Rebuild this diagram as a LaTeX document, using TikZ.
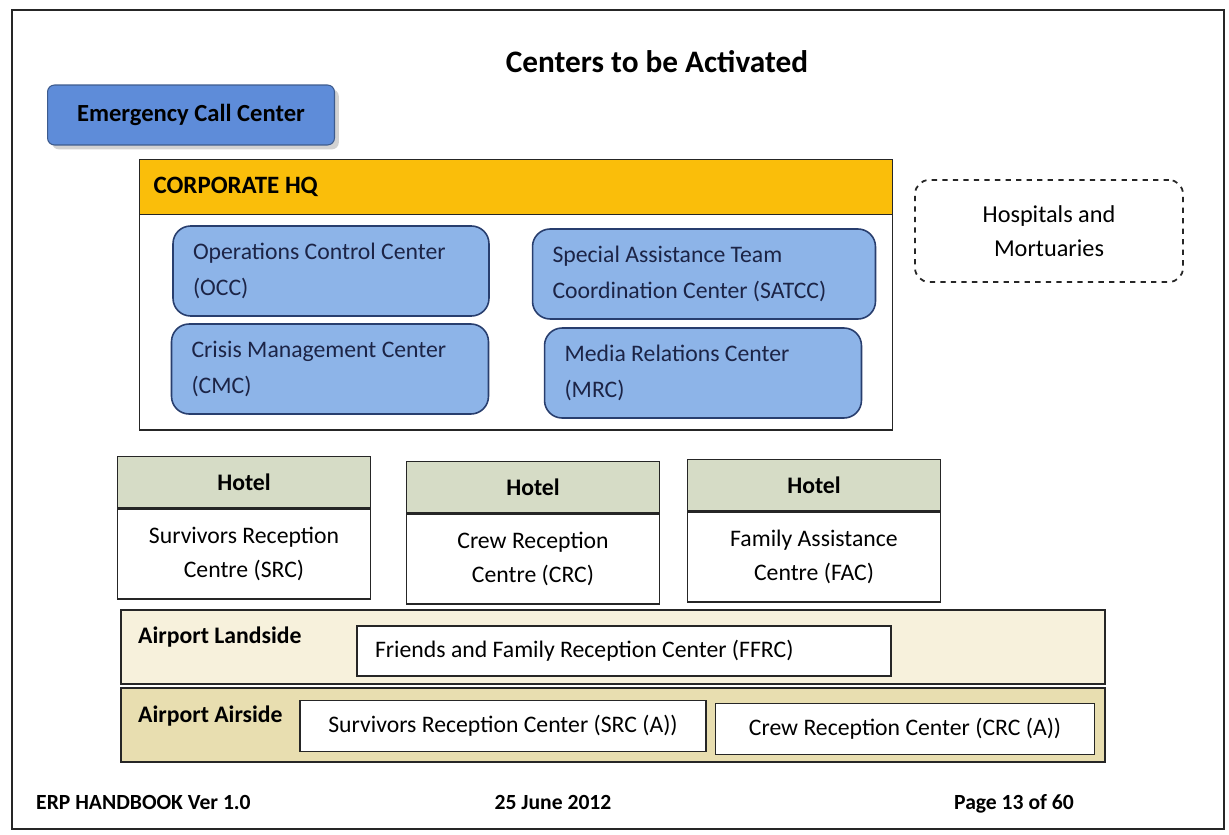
\documentclass[tikz,border=0pt]{standalone}
\usepackage{fontspec}
\setmainfont{Carlito}
\usetikzlibrary{positioning,shadows}

\begin{document}
\begin{tikzpicture}[
    x=0.02cm,
    y=-0.02cm,
    font=\fontsize{13}{20}\selectfont,
    frame/.style={draw=black!85, line width=1.3pt},
    callbox/.style={
        draw=callblue!65!black,
        fill=callblue,
        rounded corners=4pt,
        line width=0.6pt,
        minimum width=5.74cm,
        minimum height=1.2cm,
        font=\fontsize{14}{16}\selectfont\bfseries,
        drop shadow={shadow xshift=2.5pt, shadow yshift=-2.5pt, fill=black!35}
    },
    ctrbox/.style={
        draw=boxline,
        fill=ctrblue,
        rounded corners=10pt,
        line width=0.9pt,
        minimum width=#1,
        inner xsep=0.4cm,
        minimum height=1.8cm,
        align=flush left,
        text=navytext,
        font=\fontsize{13.5}{20.5}\selectfont
    },
    plainbox/.style={draw=black!85, fill=white, line width=1pt, inner sep=0pt},
    hotelhead/.style={
        draw=black!85, fill=hotelgreen, line width=1pt,
        minimum width=5.06cm, minimum height=1.02cm,
        font=\fontsize{13.5}{16}\selectfont\bfseries
    },
    hotelbody/.style={
        draw=black!85, fill=white, line width=1pt,
        minimum width=5.06cm, minimum height=1.8cm, align=center,
        font=\fontsize{13.5}{19.5}\selectfont
    },
    zone/.style={draw=black!85, fill=#1, line width=1.1pt,
        minimum width=19.68cm, minimum height=1.47cm},
    zonelabel/.style={anchor=west, font=\fontsize{13.5}{16}\selectfont\bfseries},
    footer/.style={font=\fontsize{12.3}{14}\selectfont\bfseries}
]

\definecolor{callblue}{RGB}{94,140,217}
\definecolor{ctrblue}{RGB}{141,180,232}
\definecolor{boxline}{RGB}{40,62,110}
\definecolor{navytext}{RGB}{28,36,70}
\definecolor{hqyellow}{RGB}{250,190,10}
\definecolor{hotelgreen}{RGB}{214,220,198}
\definecolor{landcream}{RGB}{247,241,220}
\definecolor{airtan}{RGB}{232,222,176}

\useasboundingbox (0,0) rectangle (1229,834);

% page frame and heading
\draw[frame] (12,10) rectangle (1224,829);
\node[font=\fontsize{17.8}{20}\selectfont\bfseries] (title) at (657,62) {Centers to be Activated};

\node[callbox] (callctr) at (191,115) {Emergency Call Center};

% corporate HQ with its four centers
\node[draw=black!85, line width=1pt, fill=white, minimum width=15.06cm, minimum height=5.4cm] (hqbox) at (516,295) {};
\node[draw=black!85, line width=1pt, fill=hqyellow, minimum width=15.06cm, minimum height=1.1cm,
    text width=14.5cm, align=flush left, font=\fontsize{14.2}{16}\selectfont\bfseries] (hqhead) at (516,187) {CORPORATE HQ};
\node[ctrbox=6.32cm, text width=5.52cm] (occ) at (331,271) {Operations Control Center\\(OCC)};
\node[ctrbox=6.86cm, text width=6.06cm] (satcc) at (704,274) {Special Assistance Team\\Coordination Center (SATCC)};
\node[ctrbox=6.34cm, text width=5.54cm] (cmc) at (330,369) {Crisis Management Center\\(CMC)};
\node[ctrbox=6.34cm, text width=5.54cm] (mrc) at (703,373) {Media Relations Center\\(MRC)};

\node[draw=black!85, dashed, line width=1pt, rounded corners=8pt, minimum width=5.36cm,
    minimum height=2.04cm, align=center, font=\fontsize{13.8}{19.5}\selectfont] (hosp) at (1049,231)
    {Hospitals and\\Mortuaries};

% hotels
\foreach \n/\x/\y/\ta/\tb in {
    1/244/482/Survivors Reception/Centre (SRC),
    2/533/487/Crew Reception/Centre (CRC),
    3/814/485/Family Assistance/Centre (FAC)
} {
    \node[hotelhead] (hotelhead\n) at (\x,\y) {Hotel};
    \node[hotelbody, anchor=north] (hotel\n) at (hotelhead\n.south) {\ta\\\tb};
}

% airport zones
\node[zone=landcream] (landside) at (613,647) {};
\node[zonelabel] (landlbl) at (132,637) {Airport Landside};
\node[plainbox, minimum width=10.68cm, minimum height=1cm, text width=9.96cm, inner xsep=0.36cm,
    align=flush left, font=\fontsize{13.5}{16}\selectfont] (ffrc) at (624,651) {Friends and Family Reception Center (FFRC)};

\node[zone=airtan] (airside) at (613,725) {};
\node[zonelabel] (airlbl) at (132,716) {Airport Airside};
\node[plainbox, minimum width=8.12cm, minimum height=1.02cm, font=\fontsize{13.5}{16}\selectfont] (srca) at (503,726) {Survivors Reception Center (SRC (A))};
\node[plainbox, minimum width=7.58cm, minimum height=1.02cm, font=\fontsize{13.5}{16}\selectfont] (crca) at (905,729) {Crew Reception Center (CRC (A))};

% page footer
\node[footer, anchor=west] (footleft) at (30,802) {ERP HANDBOOK Ver 1.0};
\node[footer] (footdate) at (553,802) {25 June 2012};
\node[footer, anchor=west] (footpage) at (948,804) {Page 13 of 60};

\end{tikzpicture}
\end{document}
